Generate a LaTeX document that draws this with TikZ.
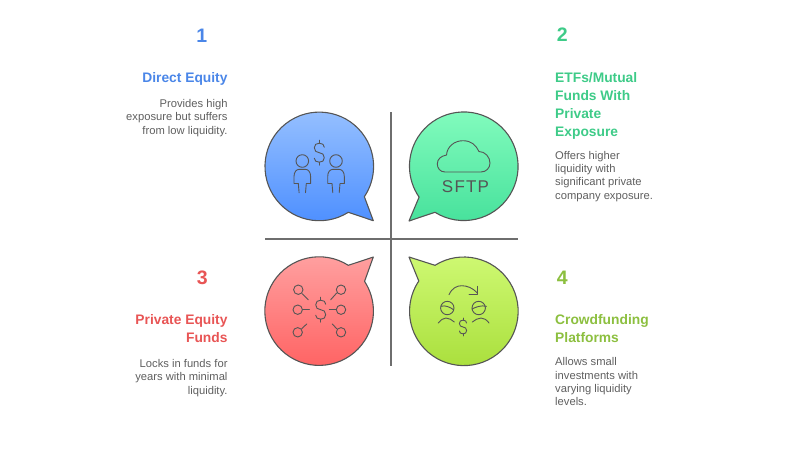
\documentclass[tikz,border=0pt]{standalone}
\usepackage{fontspec}
\setmainfont{Liberation Sans}
\definecolor{bluetext}{HTML}{4A86E8}
\definecolor{greentext}{HTML}{3ECB88}
\definecolor{redtext}{HTML}{E85555}
\definecolor{limetext}{HTML}{8CBF3F}
\definecolor{inkline}{HTML}{555555}
\definecolor{axisline}{HTML}{6E6E6E}
\definecolor{bodygrey}{HTML}{5F5F5F}
\tikzset{
    numlabel/.style={inner sep=0pt, font=\fontsize{19.5}{22}\selectfont\bfseries},
    titletext/.style={inner sep=0pt, font=\fontsize{13.8}{18}\selectfont\bfseries},
    bodytext/.style={inner sep=0pt, text=bodygrey, font=\fontsize{11.2}{13.3}\selectfont},
    bubble/.style={draw=inkline, line width=1.1pt, line join=round},
    icon/.style={draw=inkline, line width=0.9pt, line cap=round, line join=round},
    axis/.style={draw=axisline, line width=1.3pt},
    pics/dollar/.style={code={
        \draw[icon] (5,-5.5) .. controls (5,-8) and (3,-9.5) .. (0,-9.5) .. controls (-3,-9.5) and (-5,-8) .. (-5,-5)
            .. controls (-5,-2) and (-3,0) .. (0,0) .. controls (3,0) and (5,2) .. (5,5)
            .. controls (5,8) and (3,9.5) .. (0,9.5) .. controls (-3,9.5) and (-5,8) .. (-5,5.5);
        \draw[icon] (0,-12.5) to (0,-9.5);
        \draw[icon] (0,9.5) to (0,12.5);
    }},
    pics/person/.style={code={
        \draw[icon] (0,0) circle (6.3);
        \draw[icon] (-3.2,31.7) to (-4,22.5) to (-8.3,22.5) to (-8.3,15.5)
            .. controls (-8.3,11) and (-6,8.3) .. (-3,8.3) to (3,8.3) .. controls (6,8.3) and (8.3,11) .. (8.3,15.5)
            to (8.3,22.5) to (4,22.5) to (3.2,31.7);
    }},
}
\begin{document}
\begin{tikzpicture}[x=1pt, y=-1pt]
    \useasboundingbox (0,0) rectangle (786,453);

    %%axes
    \coordinate (axistop) at (391,112);
    \coordinate (axisbottom) at (391,366);
    \coordinate (axisleft) at (265,239);
    \coordinate (axisright) at (518,239);
    \draw[axis] (axistop) to (axisbottom);
    \draw[axis] (axisleft) to (axisright);

    %%bubbles
    \path[bubble, top color={rgb,255:red,153;green,194;blue,255}, bottom color={rgb,255:red,74;green,141;blue,255}]
        (348.3,212.3) arc (57.7:393.9:54.3) to (373.3,220.7) -- cycle;
    \path[bubble, top color={rgb,255:red,133;green,253;blue,191}, bottom color={rgb,255:red,68;green,224;blue,154}]
        (435,212.3) arc (122:-214.6:54.3) to (409,221) -- cycle;
    \path[bubble, top color={rgb,255:red,255;green,163;blue,163}, bottom color={rgb,255:red,255;green,96;blue,96}]
        (348.3,265.3) arc (-57.5:-393.2:54.3) to (373.3,257) -- cycle;
    \path[bubble, top color={rgb,255:red,208;green,250;blue,117}, bottom color={rgb,255:red,168;green,222;blue,58}]
        (435,265.3) arc (237.9:573.9:54.3) to (409,257) -- cycle;

    %%icon 1
    \pic at (319.3,152.7) {dollar};
    \pic at (302.3,161) {person};
    \pic at (336,161) {person};

    %%icon 2
    \draw[icon] (445,172) .. controls (440,172) and (437.3,168) .. (437.3,164) .. controls (437.3,159) and (441,156) .. (446.5,155)
        .. controls (447,147) and (454,140.7) .. (463,140.7) .. controls (471,140.7) and (476,145) .. (479,151.5)
        .. controls (485,151.5) and (490,157) .. (490,163) .. controls (490,168) and (486,172) .. (481,172) -- cycle;
    \node[inner sep=0pt, text=inkline, font=\fontsize{17}{20}\selectfont\addfontfeature{LetterSpace=7}] (sftplabel) at (465.5,187) {SFTP};

    %%icon 3
    \pic at (320.7,309.7) {dollar};
    \foreach \cx/\cy in {298.3/289.7, 341/289.7, 297.7/309.7, 341/309.7, 297.7/332.3, 341/332.3}
        \draw[icon] (\cx,\cy) circle (4.7);
    \draw[icon] (302.3,293.7) to (308.3,299.7);
    \draw[icon] (336.7,293) to (330.7,299.7);
    \draw[icon] (302.7,309.7) to (309.3,309.7);
    \draw[icon] (336,309.7) to (329.3,309.7);
    \draw[icon] (301.7,328.7) to (306.7,324);
    \draw[icon] (336.7,328.7) to (332.3,324);

    %%icon 4
    \draw[icon] (447.3,308) circle (6.7);
    \draw[icon] (478.7,308) circle (6.7);
    \draw[icon] (441,306.3) .. controls (445,305) and (450,307) .. (453.5,309.7);
    \draw[icon] (472,309) .. controls (476,307) and (481,305) .. (486.5,306.3);
    \draw[icon] (449,294.7) .. controls (452,288) and (457,285.7) .. (461.7,285.7) .. controls (467,285.7) and (473,288) .. (477.3,293);
    \draw[icon] (477.3,286.3) to (477.3,294) to (469,294);
    \draw[icon] (438.3,323) .. controls (441,320) and (443,318) .. (446,318) .. controls (449,318) and (452,320) .. (454.3,322);
    \draw[icon] (472.3,322) .. controls (475,320) and (478,318) .. (481,318) .. controls (484,318) and (487,320) .. (489,323);
    \pic[scale=0.72] at (463,327) {dollar};

    %%labels
    \node[numlabel, text=bluetext] (numone) at (201.7,35.3) {1};
    \node[numlabel, text=greentext] (numtwo) at (562.3,35) {2};
    \node[numlabel, text=redtext] (numthree) at (202.3,278) {3};
    \node[numlabel, text=limetext] (numfour) at (562.3,278) {4};

    \node[titletext, text=bluetext, anchor=base east, align=right] (titleone) at (227.7,82) {Direct Equity};
    \node[bodytext, anchor=base east, align=right] (bodyone) at (227.7,134) {Provides high\\exposure but suffers\\from low liquidity.};

    \node[titletext, text=greentext, anchor=base west, align=left] (titletwo) at (555,136.7) {ETFs/Mutual\\Funds With\\Private\\Exposure};
    \node[bodytext, anchor=base west, align=left] (bodytwo) at (555,199) {Offers higher\\liquidity with\\significant private\\company exposure.};

    \node[titletext, text=redtext, anchor=base east, align=right] (titlethree) at (227.7,342.7) {Private Equity\\Funds};
    \node[bodytext, anchor=base east, align=right] (bodythree) at (227.7,394) {Locks in funds for\\years with minimal\\liquidity.};

    \node[titletext, text=limetext, anchor=base west, align=left] (titlefour) at (555,342.7) {Crowdfunding\\Platforms};
    \node[bodytext, anchor=base west, align=left] (bodyfour) at (555,405.7) {Allows small\\investments with\\varying liquidity\\levels.};
\end{tikzpicture}
\end{document}
